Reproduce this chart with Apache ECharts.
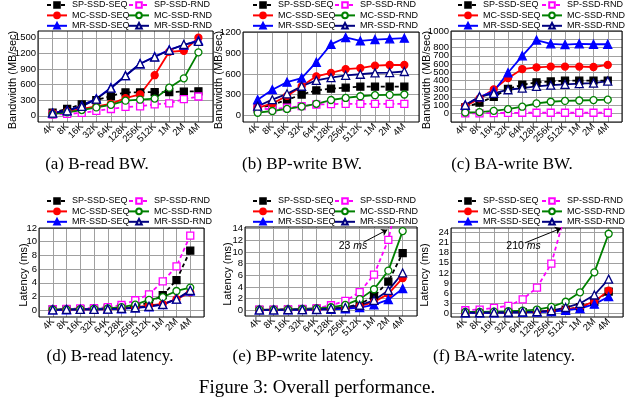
<!DOCTYPE html>
<html>
<head>
<meta charset="utf-8">
<script src="https://cdn.jsdelivr.net/npm/echarts@6/dist/echarts.min.js"></script>
<style>
html, body { margin: 0; padding: 0; background: #fff; }
#chart { width: 633px; height: 406px; }
</style>
</head>
<body>
<div id="chart"></div>
<script>
var sizes = ['4K', '8K', '16K', '32K', '64K', '128K', '256K', '512K', '1M', '2M', '4M'];
var names = ['SP-SSD-SEQ', 'SP-SSD-RND', 'MC-SSD-SEQ', 'MC-SSD-RND', 'MR-SSD-SEQ', 'MR-SSD-RND'];

// (a) B-read BW (MB/sec)
var readBwSpSeq = [60, 130, 220, 300, 380, 450, 450, 455, 455, 465, 470];
var readBwSpRnd = [20, 35, 55, 95, 130, 170, 180, 220, 240, 320, 370];
var readBwMcSeq = [50, 80, 130, 180, 230, 340, 410, 780, 1230, 1250, 1500];
var readBwMcRnd = [30, 65, 110, 160, 210, 290, 310, 330, 540, 720, 1220];
var readBwMrSeq = [55, 100, 190, 330, 540, 770, 1000, 1140, 1270, 1360, 1450];
var readBwMrRnd = [50, 95, 180, 320, 530, 770, 1000, 1130, 1260, 1370, 1430];

// (b) BP-write BW (MB/sec)
var bpBwSpSeq = [100, 150, 220, 300, 360, 385, 400, 415, 415, 415, 415];
var bpBwSpRnd = [95, 85, 110, 130, 155, 160, 165, 165, 165, 165, 165];
var bpBwMcSeq = [105, 170, 280, 420, 565, 615, 670, 685, 720, 730, 730];
var bpBwMcRnd = [35, 60, 90, 125, 165, 220, 250, 275, 290, 295, 300];
var bpBwMrSeq = [225, 370, 480, 540, 770, 1030, 1130, 1080, 1100, 1110, 1120];
var bpBwMrRnd = [130, 225, 310, 420, 505, 545, 580, 595, 615, 620, 635];

// (c) BA-write BW (MB/sec)
var baBwSpSeq = [75, 135, 205, 300, 350, 380, 390, 400, 400, 400, 400];
var baBwSpRnd = [5, 5, 8, 10, 12, 12, 12, 12, 12, 12, 12];
var baBwMcSeq = [90, 185, 295, 430, 540, 560, 570, 570, 570, 565, 590];
var baBwMcRnd = [15, 20, 35, 55, 85, 125, 145, 155, 160, 165, 170];
var baBwMrSeq = [105, 205, 270, 495, 700, 890, 845, 835, 845, 840, 840];
var baBwMrRnd = [105, 205, 245, 290, 310, 330, 345, 355, 365, 370, 395];

// (d) B-read latency (ms)
var readLatSpSeq = [0.1, 0.1, 0.15, 0.2, 0.25, 0.4, 0.6, 1.1, 2.2, 4.4, 8.7];
var readLatSpRnd = [0.15, 0.2, 0.25, 0.3, 0.45, 0.75, 1.45, 2.3, 4.2, 6.4, 10.9];
var readLatMcSeq = [0.05, 0.05, 0.1, 0.1, 0.15, 0.25, 0.4, 0.7, 0.9, 1.6, 2.6];
var readLatMcRnd = [0.1, 0.1, 0.15, 0.2, 0.25, 0.45, 0.8, 1.5, 1.9, 2.8, 3.3];
var readLatMrSeq = [0.05, 0.05, 0.1, 0.1, 0.15, 0.2, 0.35, 0.5, 0.8, 1.6, 2.8];
var readLatMrRnd = [0.05, 0.1, 0.1, 0.1, 0.15, 0.25, 0.35, 0.55, 0.85, 1.6, 2.9];

// (e) BP-write latency (ms)
var bpLatSpSeq = [0.05, 0.05, 0.1, 0.15, 0.2, 0.3, 0.5, 1.0, 2.4, 4.9, 9.8];
var bpLatSpRnd = [0.1, 0.1, 0.15, 0.2, 0.35, 0.85, 1.6, 3.1, 6.1, 12.1, 23];
var bpLatMcSeq = [0.05, 0.05, 0.1, 0.1, 0.15, 0.2, 0.35, 0.7, 1.4, 2.8, 5.5];
var bpLatMcRnd = [0.1, 0.1, 0.15, 0.2, 0.3, 0.5, 0.9, 1.9, 3.6, 6.8, 13.6];
var bpLatMrSeq = [0.05, 0.05, 0.05, 0.1, 0.1, 0.15, 0.25, 0.45, 0.9, 1.8, 3.7];
var bpLatMrRnd = [0.05, 0.05, 0.1, 0.1, 0.15, 0.25, 0.45, 0.85, 1.7, 3.4, 6.4];

// (f) BA-write latency (ms)
var baLatSpSeq = [0.2, 0.2, 0.3, 0.3, 0.4, 0.5, 0.7, 1.2, 1.9, 3.5, 6.5];
var baLatSpRnd = [1.0, 1.2, 1.7, 2.3, 4.2, 7.7, 14.8, 30, 62, 115, 210];
var baLatMcSeq = [0.3, 0.3, 0.35, 0.4, 0.5, 0.6, 0.8, 1.2, 1.9, 3.6, 6.8];
var baLatMcRnd = [0.5, 0.5, 0.6, 0.7, 0.9, 1.2, 2.0, 3.5, 6.3, 12.2, 23.6];
var baLatMrSeq = [0.2, 0.2, 0.25, 0.3, 0.35, 0.45, 0.6, 1.0, 1.5, 2.8, 5.0];
var baLatMrRnd = [0.3, 0.3, 0.35, 0.4, 0.5, 0.6, 0.9, 1.8, 3.0, 5.5, 10.2];

var SANS = "'Liberation Sans', Arial, sans-serif";
var SERIF = "'Liberation Serif', 'Times New Roman', serif";
var GRIDCOLOR = '#a0a0a0';

var styles = [
    { color: '#000000', type: [4, 3], symbol: 'rect', fill: '#000000' },
    { color: '#ff00ff', type: [4, 3], symbol: 'rect', fill: '#ffffff' },
    { color: '#ff0000', type: 'solid', symbol: 'circle', fill: '#ff0000' },
    { color: '#008000', type: 'solid', symbol: 'circle', fill: '#ffffff' },
    { color: '#0000ff', type: 'solid', symbol: 'triangle', fill: '#0000ff' },
    { color: '#000080', type: 'solid', symbol: 'triangle', fill: '#ffffff' }
];

var panels = [
    { grid: { left: 38, top: 31, width: 175, height: 91 }, min: -120, max: 1630, sub: 60, step: 300,
      yName: 'Bandwidth (MB/sec)', nameX: 13, nameY: 80, legendX: [46, 128], legendY: 0,
      caption: '(a) B-read BW.', capX: 97, capY: 165,
      data: [readBwSpSeq, readBwSpRnd, readBwMcSeq, readBwMcRnd, readBwMrSeq, readBwMrRnd] },
    { grid: { left: 243, top: 32, width: 176, height: 90 }, min: -100, max: 1210, sub: 100, step: 300,
      yName: 'Bandwidth (MB/sec)', nameX: 219, nameY: 80, legendX: [252, 334], legendY: 0,
      caption: '(b) BP-write BW.', capX: 302, capY: 165,
      data: [bpBwSpSeq, bpBwSpRnd, bpBwMcSeq, bpBwMcRnd, bpBwMrSeq, bpBwMrRnd] },
    { grid: { left: 451, top: 31, width: 171, height: 91 }, min: -100, max: 1000, sub: 100, step: 100,
      yName: 'Bandwidth (MB/sec)', nameX: 427, nameY: 80, legendX: [457, 541], legendY: 0,
      caption: '(c) BA-write BW.', capX: 512, capY: 165,
      data: [baBwSpSeq, baBwSpRnd, baBwMcSeq, baBwMcRnd, baBwMrSeq, baBwMrRnd] },
    { grid: { left: 39, top: 228, width: 165, height: 89 }, min: -1, max: 12, sub: 1, step: 2,
      yName: 'Latency (ms)', nameX: 24, nameY: 275, legendX: [46, 128], legendY: 196,
      caption: '(d) B-read latency.', capX: 110, capY: 357,
      data: [readLatSpSeq, readLatSpRnd, readLatMcSeq, readLatMcRnd, readLatMrSeq, readLatMrRnd] },
    { grid: { left: 245, top: 227, width: 172, height: 89 }, min: -1, max: 14.3, sub: 1, step: 2,
      yName: 'Latency (ms)', nameX: 228, nameY: 274, legendX: [252, 334], legendY: 196,
      caption: '(e) BP-write latency.', capX: 303, capY: 357,
      note: { text: '23', arrow: [[8.26, 11.66], [9.93, 13.83]], at: [7.54, 11.1] },
      data: [bpLatSpSeq, bpLatSpRnd, bpLatMcSeq, bpLatMcRnd, bpLatMrSeq, bpLatMrRnd] },
    { grid: { left: 451, top: 228, width: 172, height: 89 }, min: -1, max: 25.3, sub: 1, step: 3,
      yName: 'Latency (ms)', nameX: 425, nameY: 275, legendX: [457, 541], legendY: 196,
      caption: '(f) BA-write latency.', capX: 504, capY: 357,
      note: { text: '210', arrow: [[5.16, 20.9], [7.68, 25.2]], at: [5.06, 20.0] },
      data: [baLatSpSeq, baLatSpRnd, baLatMcSeq, baLatMcRnd, baLatMrSeq, baLatMrRnd] }
];

function splitColors(p) {
    var period = Math.round(p.step / p.sub);
    var pos = Math.round((0 - p.min) / p.sub) % period;
    var arr = [];
    for (var k = 0; k < period; k++) arr.push(k === pos ? GRIDCOLOR : 'rgba(0,0,0,0)');
    return arr;
}

var option = {
    backgroundColor: '#ffffff',
    animation: false,
    grid: [], xAxis: [], yAxis: [], series: [], legend: [], graphic: []
};

panels.forEach(function(p, i) {
    option.grid.push(Object.assign({
        show: true, borderColor: '#000', borderWidth: 1, backgroundColor: 'transparent', z: 3
    }, p.grid));

    option.xAxis.push({
        gridIndex: i, type: 'value', min: 0, max: 12, interval: 1,
        axisLine: { show: false }, axisTick: { show: false },
        splitLine: { show: true, lineStyle: { color: GRIDCOLOR, width: 1 } },
        axisLabel: {
            rotate: 45, margin: 3, fontSize: 9.5, color: '#000', fontFamily: SANS,
            formatter: function(v) { return sizes[Math.round(v) - 1] || ''; }
        }
    });

    option.yAxis.push({
        gridIndex: i, type: 'value', min: p.min, max: p.max, interval: p.sub,
        axisLine: { show: false }, axisTick: { show: false },
        splitLine: { show: true, lineStyle: { color: splitColors(p), width: 1 } },
        axisLabel: {
            margin: 2, fontSize: 9.5, color: '#000', fontFamily: SANS,
            showMinLabel: true, showMaxLabel: true,
            formatter: function(v) {
                var r = v / p.step;
                return (v > -1e-9 && Math.abs(r - Math.round(r)) < 1e-6) ? String(Math.round(v)) : '';
            }
        }
    });

    p.data.forEach(function(vals, s) {
        var st = styles[s];
        var ser = {
            name: names[s], type: 'line', xAxisIndex: i, yAxisIndex: i,
            data: vals.map(function(v, k) { return [k + 1, v]; }),
            symbol: st.symbol, symbolSize: st.symbol === 'triangle' ? 8 : 7,
            itemStyle: { color: st.fill, borderColor: st.color, borderWidth: 1.3 },
            lineStyle: { color: st.color, width: 1.8, type: st.type },
            silent: true, clip: true
        };
        if (p.note && s === 1) {
            ser.markLine = {
                silent: true, symbol: ['none', 'arrow'], symbolSize: 6,
                lineStyle: { color: '#000', width: 1, type: 'solid' },
                label: { show: false },
                data: [[{ coord: p.note.arrow[0] }, { coord: p.note.arrow[1] }]]
            };
            ser.markPoint = {
                silent: true, symbol: 'circle', symbolSize: 0,
                label: {
                    show: true, position: 'inside', color: '#000',
                    formatter: '{n|' + p.note.text + ' }{u|ms}',
                    rich: {
                        n: { fontSize: 10.5, fontFamily: SANS, color: '#000' },
                        u: { fontSize: 10.5, fontFamily: SANS, fontStyle: 'italic', color: '#000' }
                    }
                },
                data: [{ coord: p.note.at }]
            };
        }
        option.series.push(ser);
    });

    [0, 1].forEach(function(c) {
        option.legend.push({
            orient: 'vertical', left: p.legendX[c], top: p.legendY, padding: 0,
            itemWidth: 20, itemHeight: 7, itemGap: 0.4, selectedMode: false,
            textStyle: { fontSize: 9, lineHeight: 10, color: '#000', fontFamily: SANS },
            data: [names[c], names[c + 2], names[c + 4]]
        });
    });

    // y axis title
    option.graphic.push({
        type: 'text', x: p.nameX, y: p.nameY, rotation: Math.PI / 2,
        style: { text: p.yName, font: '11px ' + SANS, fill: '#000', textAlign: 'center', textVerticalAlign: 'middle' }
    });

    option.graphic.push({
        type: 'text', x: p.capX, y: p.capY,
        style: { text: p.caption, font: '17px ' + SERIF, fill: '#000', textAlign: 'center', textVerticalAlign: 'middle' }
    });
});

option.graphic.push({
    type: 'text', x: 317, y: 388,
    style: { text: 'Figure 3: Overall performance.', font: '19px ' + SERIF, fill: '#000', textAlign: 'center', textVerticalAlign: 'middle' }
});

var chart = echarts.init(document.getElementById('chart'), null, { renderer: 'canvas' });
chart.setOption(option);
</script>
</body>
</html>
